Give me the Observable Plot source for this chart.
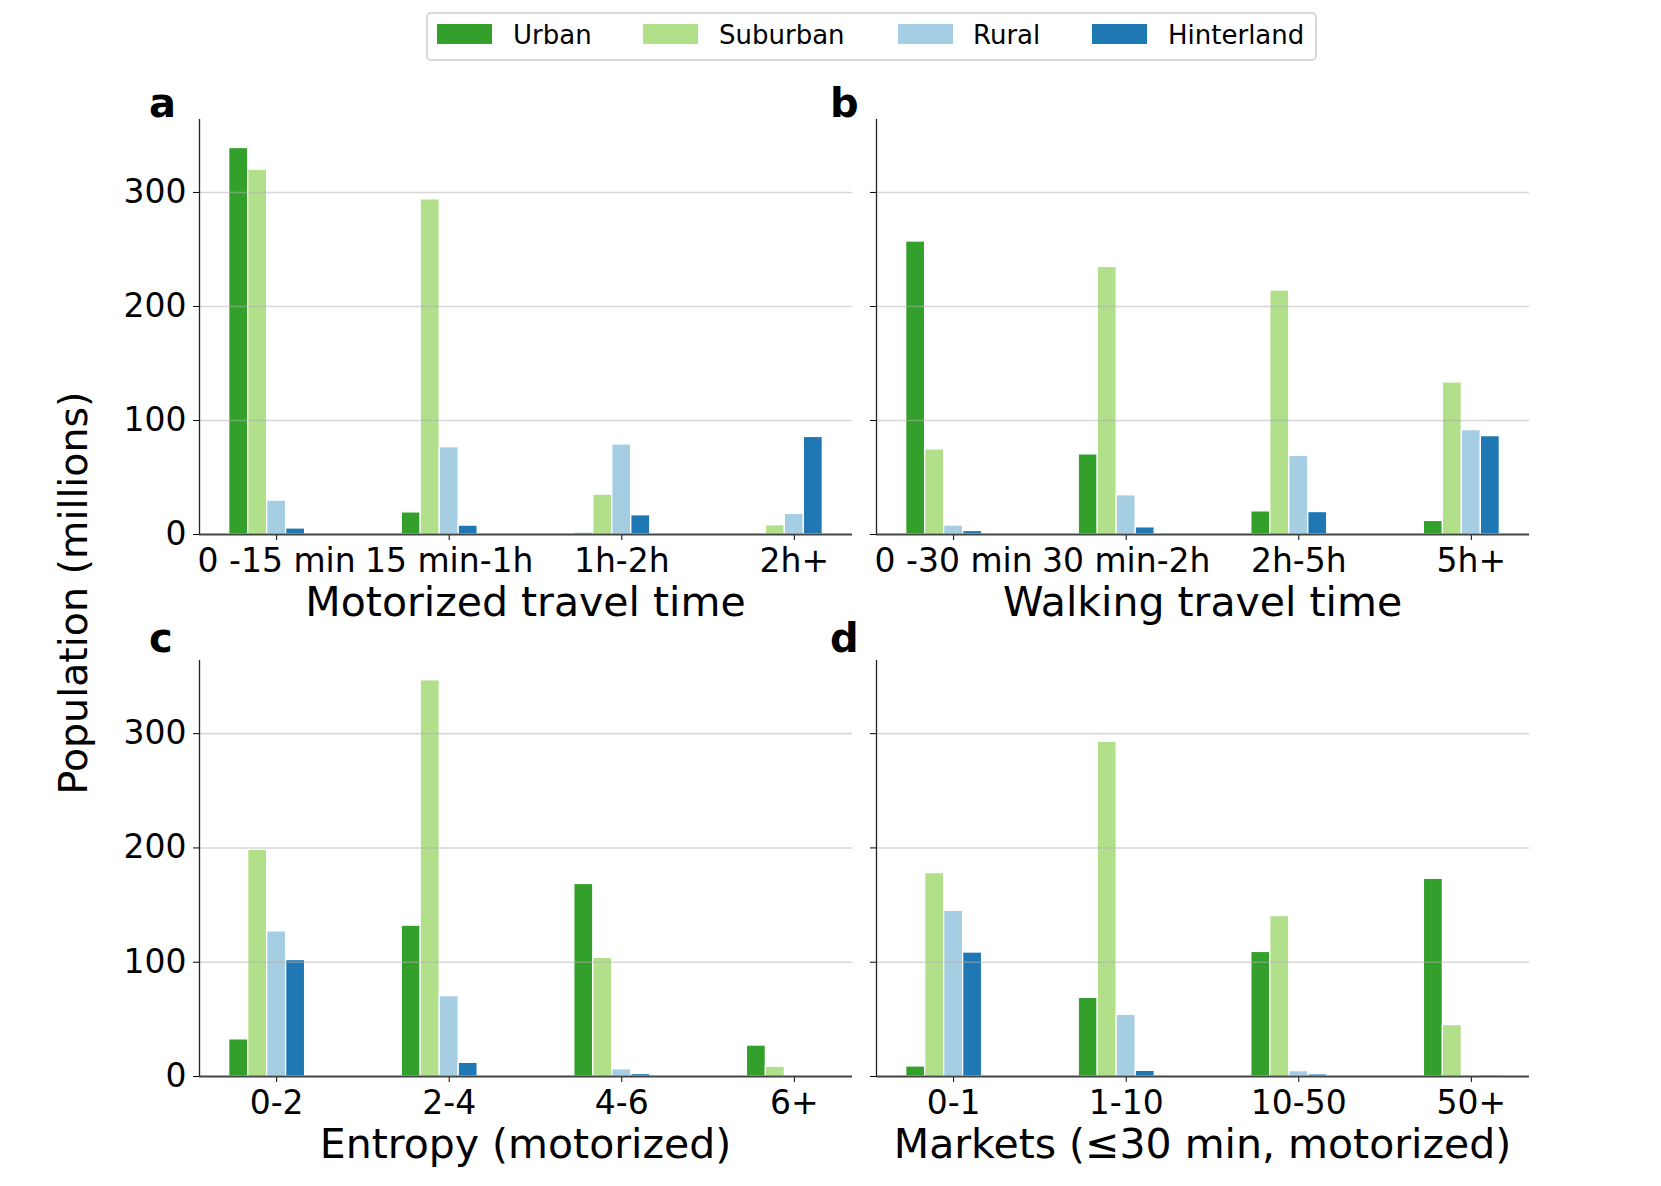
<!DOCTYPE html>
<html>
<head>
<meta charset="utf-8">
<script src="https://cdn.jsdelivr.net/npm/d3@7"></script>
<script src="https://cdn.jsdelivr.net/npm/@observablehq/plot@0.6"></script>
<style>
  html, body { margin: 0; padding: 0; background: white; }
  #root { position: relative; width: 1661px; height: 1186px; overflow: hidden; font-family: "DejaVu Sans", sans-serif; }
  .panel { position: absolute; }
  #overlay { position: absolute; left: 0; top: 0; pointer-events: none; }
</style>
</head>
<body>
<div id="root"></div>
<script>
// ---------- data ----------
const seriesNames = ["Urban", "Suburban", "Rural", "Hinterland"];
const seriesColors = ["#33a02c", "#b2df8a", "#a6cee3", "#1f78b4"];

const motorCats = ["0 -15 min", "15 min-1h", "1h-2h", "2h+"];
const motorUrban = [339, 19.4, 1.6, 0];
const motorSuburban = [320, 294, 35, 8.1];
const motorRural = [29.7, 76.6, 79, 18.1];
const motorHinterland = [5.3, 7.8, 16.9, 85.6];

const walkCats = ["0 -30 min", "30 min-2h", "2h-5h", "5h+"];
const walkUrban = [257, 70.3, 20.3, 11.9];
const walkSuburban = [74.7, 234.7, 214, 133.4];
const walkRural = [7.8, 34.4, 69, 91.6];
const walkHinterland = [3.1, 6.3, 19.7, 86.3];

const entropyCats = ["0-2", "2-4", "4-6", "6+"];
const entropyUrban = [32.5, 132, 168.5, 27.1];
const entropySuburban = [198.4, 346.7, 103.8, 8.5];
const entropyRural = [127, 70.3, 6.3, 0];
const entropyHinterland = [101.9, 12, 2.2, 0];

const marketCats = ["0-1", "1-10", "10-50", "50+"];
const marketUrban = [8.8, 68.8, 109, 173];
const marketSuburban = [178, 293, 140.4, 45];
const marketRural = [145, 54, 4.7, 0];
const marketHinterland = [108.5, 5, 1.9, 1.3];

const yTicks = [0, 100, 200, 300];
const panelLetters = ["a", "b", "c", "d"];
const xLabels = ["Motorized travel time", "Walking travel time", "Entropy (motorized)", "Markets (\u226430 min, motorized)"];
const yLabel = "Population (millions)";

// ---------- layout ----------
const barW = 0.11;
const offsets = [-2 * barW, -barW, 0, barW];
const xDomain = [-0.447, 3.337];
const yDomain = [0, 364];

const root = document.getElementById("root");

function panel(cats, vals, box, showYLabels) {
  const data = [];
  cats.forEach((c, i) => seriesNames.forEach((s, j) => {
    const v = vals[j][i];
    if (v > 0) data.push({ i, j, s, v });
  }));
  const chart = Plot.plot({
    width: box.width,
    height: box.height,
    marginLeft: box.mL,
    marginRight: box.mR,
    marginTop: box.mT,
    marginBottom: box.mB,
    style: { fontFamily: "DejaVu Sans", fontSize: "33px", color: "black", background: "transparent", overflow: "visible" },
    x: {
      type: "linear", domain: xDomain, ticks: d3.range(cats.length),
      tickFormat: i => cats[i], tickSize: 6, tickPadding: 8, label: null
    },
    y: {
      domain: yDomain, ticks: yTicks, tickSize: 6, tickPadding: 7,
      tickFormat: showYLabels ? (d => String(d)) : (() => ""), label: null
    },
    color: { domain: seriesNames, range: seriesColors },
    marks: [
      Plot.rect(data, {
        x1: d => d.i + offsets[d.j] - barW / 2,
        x2: d => d.i + offsets[d.j] + barW / 2,
        y1: 0, y2: "v", fill: "s", stroke: "white", strokeWidth: 1.3
      }),
      Plot.ruleY(yTicks.slice(1), { stroke: "#b0b0b0", strokeOpacity: 0.5, strokeWidth: 1.6 }),
      Plot.ruleY([yDomain[0]], { stroke: "#444", strokeWidth: 2 }),
      Plot.ruleX([xDomain[0]], { stroke: "#222", strokeWidth: 1.3 })
    ]
  });
  const wrap = document.createElement("div");
  wrap.className = "panel";
  wrap.style.left = box.left + "px";
  wrap.style.top = box.top + "px";
  wrap.appendChild(chart);
  root.appendChild(wrap);
}

const topRow = { top: 60, height: 580, mT: 59, mB: 106 };
const botRow = { top: 640, height: 546, mT: 20, mB: 110 };
const leftCol = { left: 0, width: 864, mL: 199, mR: 12 };
const rightCol = { left: 864, width: 797, mL: 12, mR: 132 };

panel(motorCats, [motorUrban, motorSuburban, motorRural, motorHinterland], { ...topRow, ...leftCol }, true);
panel(walkCats, [walkUrban, walkSuburban, walkRural, walkHinterland], { ...topRow, ...rightCol }, false);
panel(entropyCats, [entropyUrban, entropySuburban, entropyRural, entropyHinterland], { ...botRow, ...leftCol }, true);
panel(marketCats, [marketUrban, marketSuburban, marketRural, marketHinterland], { ...botRow, ...rightCol }, false);

// ---------- overlay: labels, letters, legend ----------
const svg = d3.select(root).append("svg")
  .attr("id", "overlay").attr("width", 1661).attr("height", 1186)
  .style("font-family", "DejaVu Sans");

const xLabelPos = [[525.5, 616], [1202.5, 616], [525.5, 1158], [1202.5, 1158]];
xLabels.forEach((t, k) => {
  svg.append("text").attr("x", xLabelPos[k][0]).attr("y", xLabelPos[k][1])
    .attr("text-anchor", "middle").attr("font-size", 41).attr("fill", "black").text(t);
});

const letterPos = [[149, 117], [830, 117], [149, 652], [830, 652]];
panelLetters.forEach((t, k) => {
  svg.append("text").attr("x", letterPos[k][0]).attr("y", letterPos[k][1])
    .attr("font-size", 40).attr("font-weight", "bold").attr("fill", "black").text(t);
});

svg.append("text")
  .attr("transform", "translate(87,593) rotate(-90)")
  .attr("text-anchor", "middle").attr("font-size", 39.5).attr("fill", "black").text(yLabel);

// legend
const lg = svg.append("g");
lg.append("rect").attr("x", 427).attr("y", 13).attr("width", 889).attr("height", 47)
  .attr("rx", 4).attr("fill", "white").attr("stroke", "#cccccc").attr("stroke-width", 1.5);
const swatchX = [437, 643, 898, 1092];
const textX = [513, 719, 973, 1168];
seriesNames.forEach((s, k) => {
  lg.append("rect").attr("x", swatchX[k]).attr("y", 24).attr("width", 55).attr("height", 20)
    .attr("fill", seriesColors[k]);
  lg.append("text").attr("x", textX[k]).attr("y", 44).attr("font-size", 26).attr("fill", "black").text(s);
});
</script>
</body>
</html>
